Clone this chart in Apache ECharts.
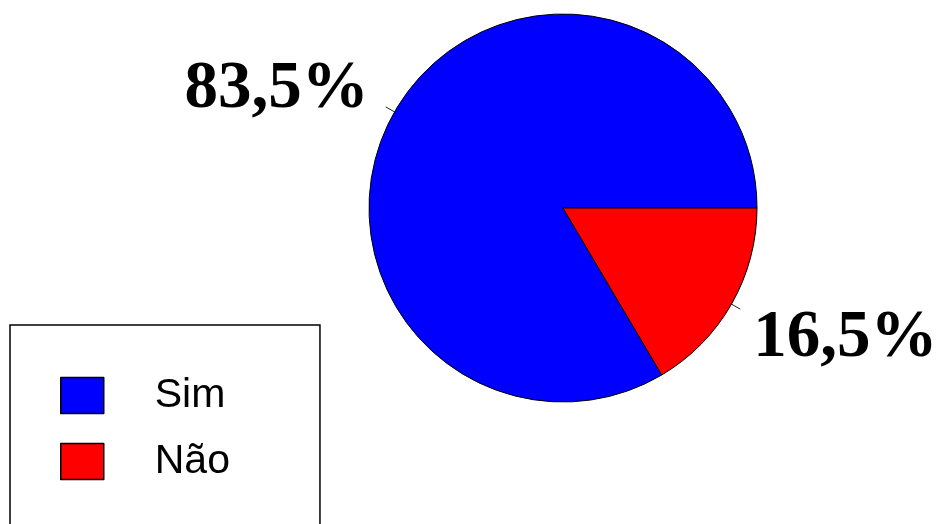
<!DOCTYPE html>
<html>
<head>
<meta charset="utf-8">
<script src="https://cdn.jsdelivr.net/npm/echarts@6/dist/echarts.min.js"></script>
<style>
  html, body { margin: 0; padding: 0; background: #fff; }
  #chart { width: 938px; height: 524px; }
</style>
</head>
<body>
<div id="chart"></div>
<script>
// data
const categories = ["Sim", "Não"];
const values = [83.5, 16.5];
const valueLabels = ["83,5%", "16,5%"];
const colors = ["#0000ff", "#ff0000"];

const chart = echarts.init(document.getElementById("chart"));
const total = values.reduce((a, b) => a + b, 0);

// label text sits above the tick for Sim, below it for Não
function labelText(p) {
  const t = "{t|" + valueLabels[p.dataIndex] + "}";
  return p.dataIndex === 0 ? t + "\n{g1| }" : "{g2| }\n" + t;
}

const option = {
  backgroundColor: "#fff",
  animation: false,
  legend: {
    orient: "vertical",
    left: 10,
    top: 325,
    height: 200,
    data: categories,
    icon: "rect",
    itemWidth: 43,
    itemHeight: 36,
    itemGap: 25,
    padding: [50, 90, 70, 50],
    borderColor: "#000",
    borderWidth: 1.5,
    selectedMode: false,
    itemStyle: { borderColor: "#000", borderWidth: 1.5 },
    textStyle: {
      fontFamily: "Liberation Sans",
      fontSize: 41,
      color: "#000",
      padding: [0, 0, 0, 46],
    },
  },
  series: [
    {
      type: "pie",
      center: [563, 208],
      radius: 194,
      startAngle: -360 * values[1] / total,
      clockwise: true,
      avoidLabelOverlap: false,
      itemStyle: { borderColor: "#000", borderWidth: 1 },
      labelLine: {
        show: true,
        length: 10,
        length2: 0.1,
        lineStyle: { color: "#222", width: 1 },
      },
      label: {
        show: true,
        position: "outside",
        formatter: labelText,
        rich: {
          t: {
            fontFamily: "Liberation Serif",
            fontWeight: "bold",
            fontSize: 67,
            lineHeight: 68,
            color: "#000",
          },
          g1: { fontSize: 10, height: 34, lineHeight: 34 },
          g2: { fontSize: 10, height: 60, lineHeight: 60 },
        },
      },
      data: categories.map((name, i) => ({
        name: name,
        value: values[i],
        itemStyle: { color: colors[i] },
        label: { padding: i === 0 ? [0, 12, 0, 0] : [0, 0, 0, 8] },
      })),
    },
  ],
};

chart.setOption(option);
</script>
</body>
</html>
